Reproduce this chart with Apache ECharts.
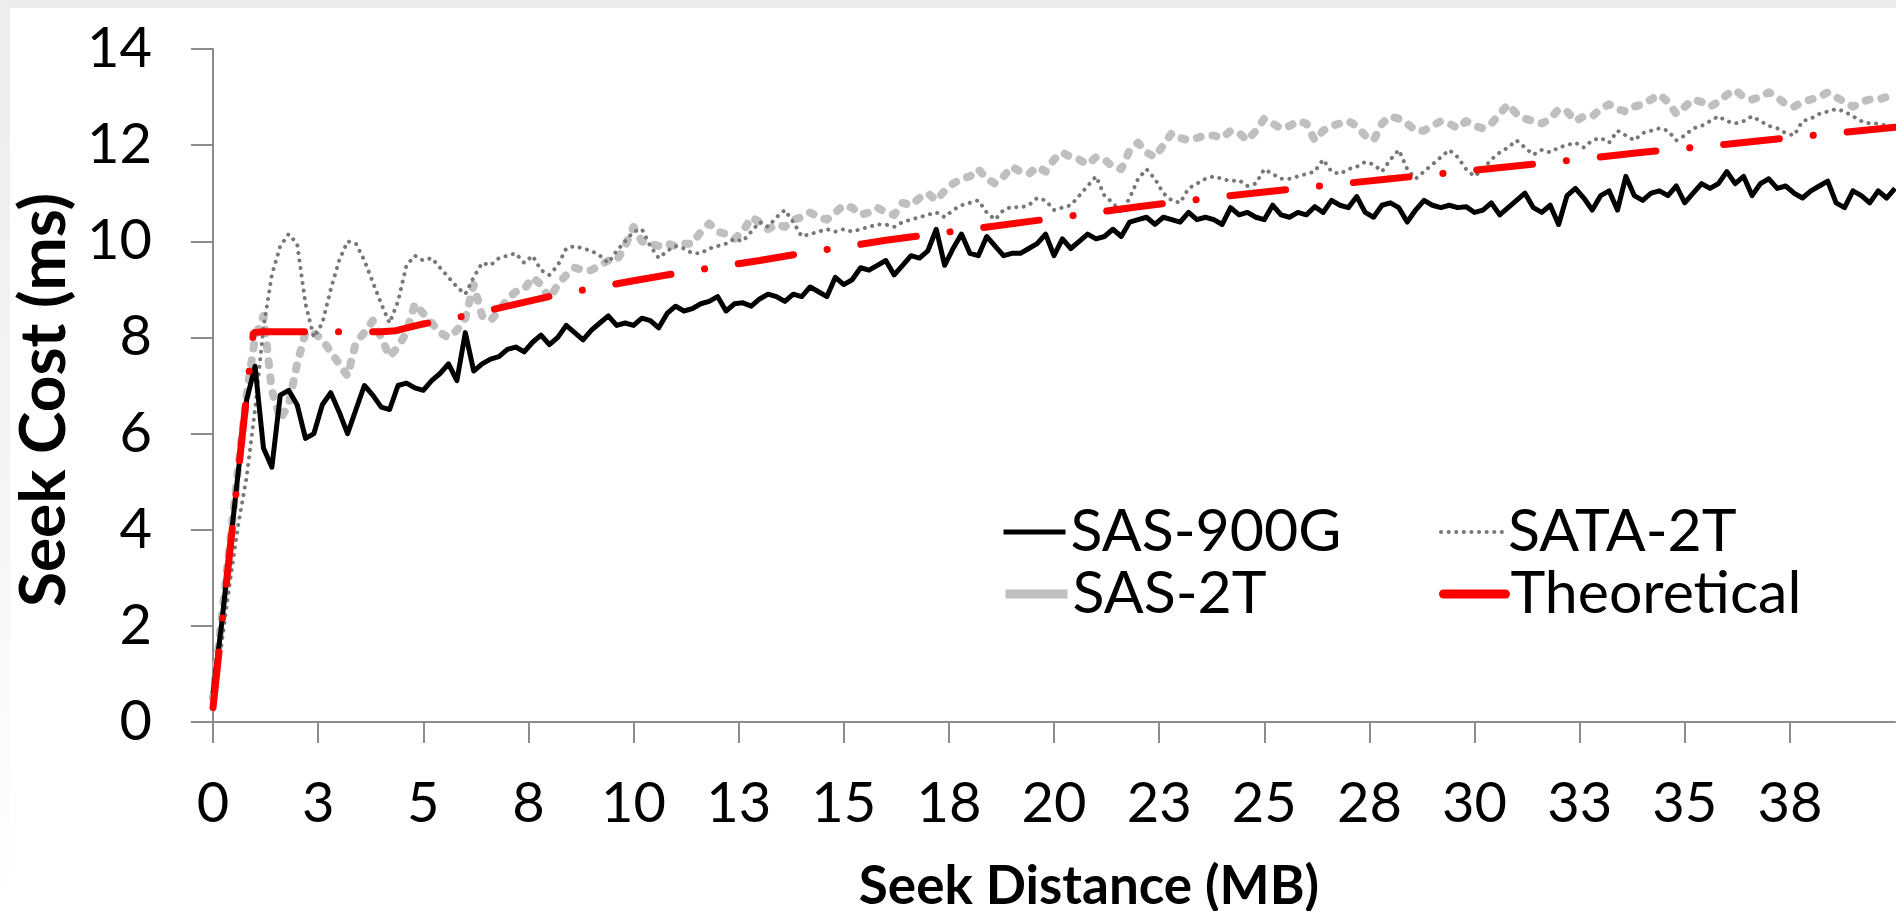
<!DOCTYPE html>
<html>
<head>
<meta charset="utf-8">
<title>Seek Cost vs Seek Distance</title>
<script src="https://cdn.jsdelivr.net/npm/echarts@6/dist/echarts.min.js"></script>
<style>
  html, body { margin: 0; padding: 0; background: #fff; }
  #main { width: 1896px; height: 911px; }
</style>
</head>
<body>
<div id="main"></div>
<script>
// measured curves are sampled every 0.2 MB, starting at 0
var STEP_MB = 0.2;

// seek cost (ms), one line = 2 MB
var sas900g = [
  0.6, 2.0, 3.6, 5.2, 6.7, 7.4, 5.7, 5.3, 6.8, 6.9,
  6.6, 5.9, 6.0, 6.6, 6.85, 6.45, 6.0, 6.5, 7.0, 6.8,
  6.55, 6.5, 7.0, 7.05, 6.95, 6.9, 7.1, 7.25, 7.45, 7.1,
  8.1, 7.3, 7.45, 7.55, 7.6, 7.75, 7.8, 7.7, 7.9, 8.05,
  7.85, 8.0, 8.25, 8.1, 7.95, 8.15, 8.3, 8.45, 8.25, 8.3,
  8.25, 8.4, 8.35, 8.2, 8.5, 8.65, 8.55, 8.6, 8.7, 8.75,
  8.85, 8.55, 8.7, 8.72, 8.65, 8.8, 8.9, 8.85, 8.75, 8.9,
  8.85, 9.05, 8.95, 8.85, 9.25, 9.1, 9.2, 9.45, 9.4, 9.5,
  9.6, 9.3, 9.5, 9.7, 9.65, 9.8, 10.25, 9.5, 9.85, 10.15,
  9.75, 9.7, 10.1, 9.9, 9.7, 9.75, 9.75, 9.85, 9.95, 10.15,
  9.7, 10.05, 9.85, 10.0, 10.15, 10.05, 10.1, 10.25, 10.1, 10.4,
  10.45, 10.5, 10.35, 10.5, 10.45, 10.4, 10.6, 10.45, 10.5, 10.45,
  10.35, 10.7, 10.55, 10.6, 10.5, 10.45, 10.75, 10.55, 10.5, 10.6,
  10.55, 10.72, 10.6, 10.85, 10.75, 10.7, 10.93, 10.6, 10.5, 10.75,
  10.8, 10.7, 10.4, 10.65, 10.85, 10.75, 10.7, 10.75, 10.7, 10.72,
  10.6, 10.65, 10.8, 10.55, 10.7, 10.85, 11.0, 10.7, 10.6, 10.75,
  10.35, 10.95, 11.1, 10.9, 10.65, 10.95, 11.05, 10.65, 11.35, 10.95,
  10.85, 11.0, 11.05, 10.95, 11.15, 10.8, 11.0, 11.2, 11.1, 11.2,
  11.45, 11.2, 11.35, 10.95, 11.2, 11.3, 11.1, 11.15, 11.0, 10.9,
  11.05, 11.15, 11.25, 10.8, 10.7, 11.05, 10.95, 10.8, 11.05, 10.9,
  11.1
];

var sas2t = [
  0.5, 2.1, 3.7, 5.3, 6.8, 8.0, 8.45, 6.9, 6.3, 6.6,
  7.45, 8.1, 8.1, 7.95, 7.7, 7.45, 7.2, 7.9, 8.1, 8.35,
  8.0, 7.6, 7.8, 8.1, 8.7, 8.5, 8.3, 8.1, 8.0, 8.15,
  8.4, 9.1, 8.45, 8.35, 8.55, 8.8, 8.95, 9.0, 9.25, 9.1,
  8.8, 9.1, 9.3, 9.45, 9.4, 9.4, 9.5, 9.6, 9.6, 9.9,
  10.3, 10.0, 9.95, 9.9, 9.95, 9.9, 9.95, 9.95, 10.2, 10.37,
  10.2, 10.15, 10.05, 10.2, 10.5, 10.4, 10.25, 10.35, 10.3, 10.45,
  10.5, 10.6, 10.5, 10.45, 10.6, 10.75, 10.7, 10.55, 10.6, 10.7,
  10.6, 10.55, 10.8, 10.75, 10.9, 11.0, 10.85, 11.05, 11.2, 11.3,
  11.35, 11.5, 11.3, 11.2, 11.35, 11.55, 11.45, 11.4, 11.55, 11.45,
  11.7, 11.85, 11.75, 11.7, 11.6, 11.75, 11.7, 11.55, 11.5, 11.9,
  12.05, 11.85, 11.75, 12.0, 12.25, 12.15, 12.1, 12.15, 12.2, 12.2,
  12.15, 12.3, 12.25, 12.1, 12.3, 12.55, 12.45, 12.35, 12.4, 12.5,
  12.45, 12.1, 12.3, 12.4, 12.45, 12.5, 12.4, 12.2, 12.1, 12.45,
  12.6, 12.55, 12.45, 12.3, 12.3, 12.4, 12.5, 12.45, 12.35, 12.5,
  12.4, 12.35, 12.45, 12.65, 12.85, 12.65, 12.55, 12.5, 12.45, 12.55,
  12.75, 12.7, 12.5, 12.6, 12.6, 12.75, 12.85, 12.75, 12.7, 12.8,
  12.85, 12.95, 13.05, 12.9, 12.65, 12.8, 12.95, 12.9, 12.8, 12.9,
  13.05, 13.15, 13.0, 12.95, 13.0, 13.1, 13.0, 12.85, 12.8, 12.9,
  12.95, 13.0, 13.1, 13.0, 12.9, 12.8, 12.9, 12.95, 12.95, 13.0,
  13.0
];

var sata2t = [
  0.5, 1.6, 2.9, 4.1, 5.1, 6.5, 8.2, 9.3, 9.9, 10.15,
  9.95, 8.7, 8.0, 8.3, 9.0, 9.6, 10.0, 9.95, 9.6, 9.15,
  8.7, 8.3, 8.75, 9.5, 9.7, 9.6, 9.65, 9.45, 9.25, 9.05,
  8.9, 9.25, 9.55, 9.5, 9.65, 9.7, 9.75, 9.55, 9.7, 9.4,
  9.3, 9.5, 9.85, 9.9, 9.85, 9.8, 9.7, 9.55, 9.8, 10.0,
  10.2, 10.25, 9.9, 9.65, 9.8, 9.9, 9.85, 9.75, 9.75, 9.85,
  9.9, 9.95, 10.05, 10.0, 10.2, 10.4, 10.3, 10.5, 10.65, 10.4,
  10.1, 10.15, 10.2, 10.25, 10.2, 10.25, 10.2, 10.25, 10.3, 10.35,
  10.35, 10.3, 10.4, 10.45, 10.5, 10.55, 10.6, 10.5, 10.65, 10.75,
  10.8, 10.85, 10.6, 10.45, 10.65, 10.72, 10.7, 10.75, 10.9, 10.85,
  10.65, 10.7, 10.75, 10.95, 11.15, 11.35, 10.95, 10.8, 10.6, 10.9,
  11.3, 11.5, 11.3, 11.0, 10.85, 10.8, 11.1, 11.2, 11.3, 11.35,
  11.3, 11.25, 11.27, 11.15, 11.2, 11.5, 11.4, 11.3, 11.3, 11.35,
  11.4, 11.45, 11.7, 11.45, 11.4, 11.5, 11.55, 11.65, 11.6, 11.45,
  11.7, 11.9, 11.5, 11.3, 11.45, 11.6, 11.75, 11.9, 11.75, 11.5,
  11.35, 11.5, 11.7, 11.85, 11.95, 12.1, 11.95, 11.8, 11.9, 11.85,
  11.95, 12.0, 12.05, 11.95, 12.1, 12.15, 12.05, 12.3, 12.2, 12.1,
  12.25, 12.3, 12.35, 12.3, 12.1, 12.2, 12.35, 12.4, 12.5, 12.6,
  12.5, 12.45, 12.5, 12.6, 12.5, 12.4, 12.35, 12.25, 12.2, 12.5,
  12.55, 12.65, 12.7, 12.75, 12.7, 12.6, 12.5, 12.45, 12.45, 12.4,
  12.38
];

// theoretical model, read at its corners and along the curve
var theoDist = [0, 0.96, 1.2, 2, 3, 4, 4.35, 5, 6, 7, 8, 9, 10, 11, 12, 13, 14, 15, 16, 18,
  20, 22, 24, 26, 28, 30, 32, 34, 36, 38, 40];
var theoCost = [0.3, 8.1, 8.12, 8.12, 8.12, 8.12, 8.14, 8.28, 8.45, 8.65, 8.85, 9.02, 9.18, 9.33, 9.47, 9.6, 9.75, 9.88, 10.02, 10.25,
  10.48, 10.72, 10.93, 11.12, 11.3, 11.48, 11.66, 11.85, 12.02, 12.2, 12.37];

// the x labels print every 2.5 MB rounded to whole numbers
var xTickLabels = ['0', '3', '5', '8', '10', '13', '15', '18', '20', '23', '25', '28', '30', '33', '35', '38'];
var yTickLabels = ['0', '2', '4', '6', '8', '10', '12', '14'];

function pairs(vals) {
  return vals.map(function (v, i) { return [+(i * STEP_MB).toFixed(1), v]; });
}

var FONT = 'Lato, "Open Sans", sans-serif';
var AXIS_GREY = '#8c8c8c';

var chart = echarts.init(document.getElementById('main'));

// one legend per entry so the two columns line up like the original
function legendAt(name, left, top, lineStyle) {
  return {
    data: [{ name: name, lineStyle: lineStyle }],
    left: left,
    top: top,
    padding: 0,
    itemWidth: 62,
    itemHeight: 1,   // tiny height hides the circle echarts puts on line icons
    selectedMode: false,
    textStyle: { fontFamily: FONT, fontSize: 59, lineHeight: 60, color: '#000' }
  };
}

chart.setOption({
  animation: false,
  backgroundColor: '#fff',
  grid: { left: 213, right: 1, top: 49, bottom: 189, containLabel: false },
  xAxis: {
    type: 'value',
    min: 0,
    max: 40,
    interval: 2.5,
    axisLine: { lineStyle: { color: AXIS_GREY, width: 2 } },
    axisTick: { show: true, length: 21, lineStyle: { color: AXIS_GREY, width: 2 } },
    splitLine: { show: false },
    axisLabel: {
      showMaxLabel: false,
      margin: 53,
      fontFamily: FONT,
      fontSize: 56,
      lineHeight: 58,
      color: '#000',
      formatter: function (v) { return xTickLabels[Math.round(v / 2.5)] || ''; }
    }
  },
  yAxis: {
    type: 'value',
    min: 0,
    max: 14,
    interval: 2,
    axisLine: { show: true, lineStyle: { color: AXIS_GREY, width: 2 } },
    axisTick: { show: true, length: 22, lineStyle: { color: AXIS_GREY, width: 2 } },
    splitLine: { show: false },
    axisLabel: {
      margin: 61,
      fontFamily: FONT,
      fontSize: 56,
      color: '#000',
      formatter: function (v) { return yTickLabels[Math.round(v / 2)]; }
    }
  },
  legend: [
    legendAt('SAS-900G', 1001, 502, { width: 5, type: 'solid' }),
    legendAt('SATA-2T', 1439, 502, { width: 4 }),
    legendAt('SAS-2T', 1001, 564, { width: 9, type: 'solid', cap: 'butt' }),
    legendAt('Theoretical', 1439, 564, { width: 9, type: 'solid', cap: 'round' })
  ],
  graphic: [
    // faint slide background showing at the top and left edges
    {
      type: 'rect', z: -10, shape: { x: 0, y: 0, width: 1896, height: 8 },
      style: { fill: '#ececec' }
    },
    {
      type: 'rect', z: -10, shape: { x: 0, y: 0, width: 10, height: 911 },
      style: {
        fill: new echarts.graphic.LinearGradient(0, 0, 0, 1, [
          { offset: 0, color: '#ececec' }, { offset: 0.6, color: '#f6f6f6' }, { offset: 1, color: '#ffffff' }
        ])
      }
    },
    {
      type: 'text',
      x: 1089, y: 887,
      style: { text: 'Seek Distance (MB)', font: 'bold 53px ' + FONT, fill: '#000', align: 'center', verticalAlign: 'middle' }
    },
    {
      type: 'text',
      rotation: Math.PI / 2,
      x: 44, y: 400,
      style: { text: 'Seek Cost (ms)', font: 'bold 64px ' + FONT, fill: '#000', align: 'center', verticalAlign: 'middle' }
    }
  ],
  series: [
    {
      name: 'SAS-2T', type: 'line', data: pairs(sas2t), symbol: 'none', z: 2,
      lineStyle: { color: '#bfbfbf', width: 8, type: [4, 12], cap: 'round', join: 'round' },
      itemStyle: { color: '#bfbfbf' }
    },
    {
      name: 'SATA-2T', type: 'line', data: pairs(sata2t), symbol: 'none', z: 3,
      lineStyle: { color: '#787878', width: 4, type: [0.1, 7.5], cap: 'round' },
      itemStyle: { color: '#787878' }
    },
    {
      name: 'SAS-900G', type: 'line', data: pairs(sas900g), symbol: 'none', z: 4,
      lineStyle: { color: '#000', width: 5, join: 'round' },
      itemStyle: { color: '#000' }
    },
    {
      name: 'Theoretical', type: 'line', symbol: 'none', z: 5,
      data: theoDist.map(function (d, i) { return [d, theoCost[i]]; }),
      lineStyle: { color: '#ff0000', width: 7, type: [56, 34, 0.1, 34], cap: 'round' },
      itemStyle: { color: '#ff0000' }
    }
  ]
});
</script>
</body>
</html>
